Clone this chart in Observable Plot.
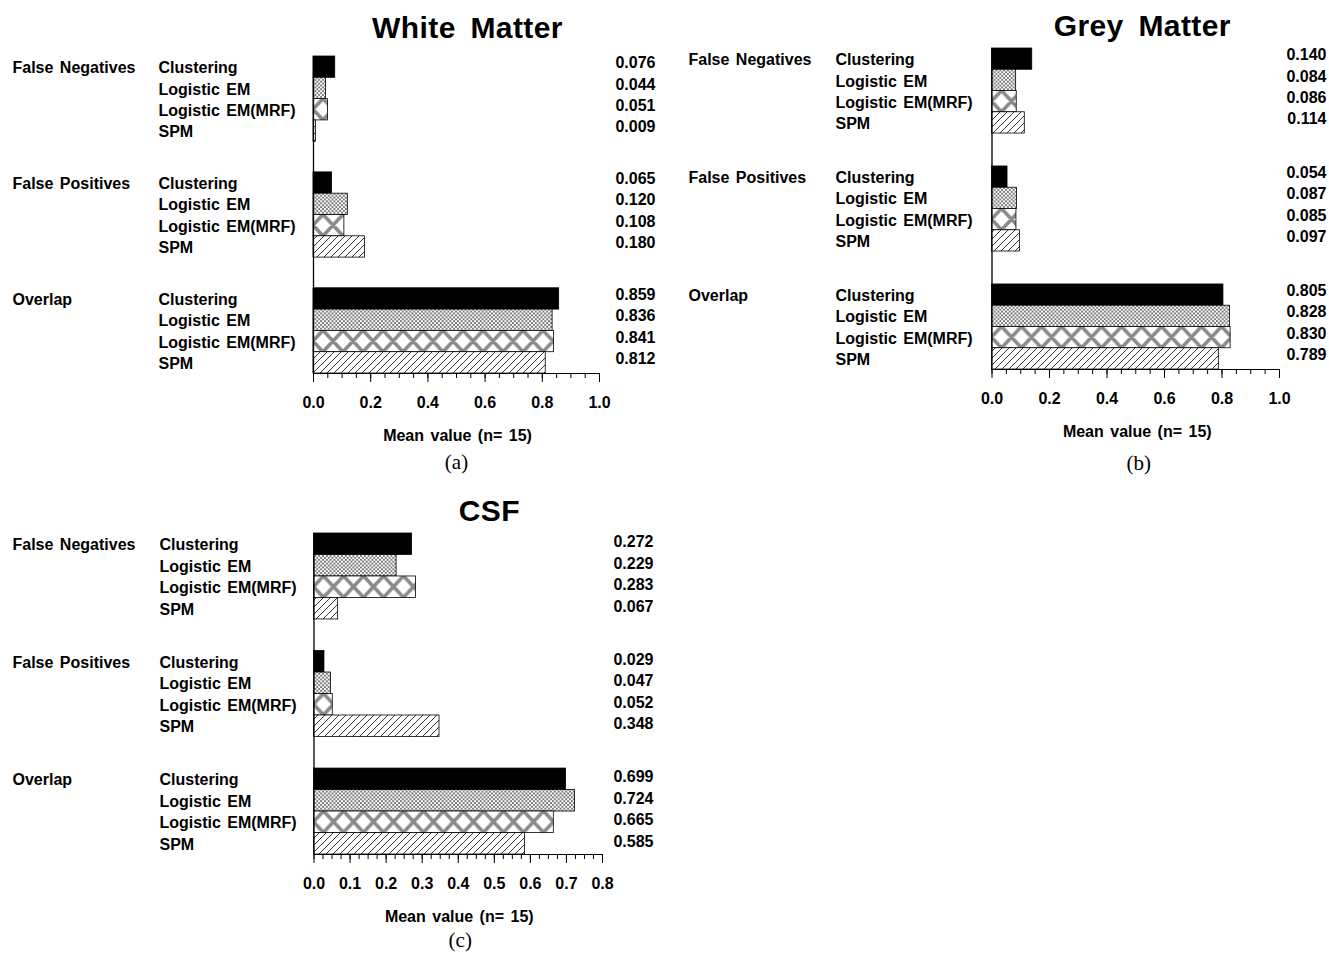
<!DOCTYPE html>
<html>
<head>
<meta charset="utf-8">
<script src="https://cdn.jsdelivr.net/npm/d3@7"></script>
<script src="https://cdn.jsdelivr.net/npm/@observablehq/plot@0.6"></script>
<style>
  body { margin: 0; background: #fff; }
  #wrap { position: relative; width: 1329px; height: 953px; overflow: hidden; background: #fff; }
  .panel { position: absolute; }
</style>
</head>
<body>
<svg width="0" height="0" style="position:absolute">
  <defs>
    <pattern id="xhatch" patternUnits="userSpaceOnUse" width="3.8" height="3.8">
      <rect width="3.8" height="3.8" fill="#fff"></rect>
      <path d="M-0.5,-0.5L4.3,4.3M4.3,-0.5L-0.5,4.3" stroke="#000" stroke-width="0.5"></path>
    </pattern>
    <pattern id="hatch" patternUnits="userSpaceOnUse" width="7" height="7">
      <rect width="7" height="7" fill="#fff"></rect>
      <path d="M-1,1L1,-1M-1,8L8,-1M6,8L8,6" stroke="#000" stroke-width="0.8"></path>
    </pattern>
    <pattern id="lattice" patternUnits="objectBoundingBox" x="0" y="0" width="1" height="1" patternContentUnits="userSpaceOnUse">
      <rect width="1000" height="40" fill="#fff"></rect>
      <path id="latticePath" stroke="#8a8a8a" stroke-width="3.6" fill="none"></path>
    </pattern>
  </defs>
</svg>
<div id="wrap"></div>
<script>
// ---------- data ----------
const groups = ["False Negatives", "False Positives", "Overlap"];
const methods = ["Clustering", "Logistic EM", "Logistic EM(MRF)", "SPM"];

const whiteFN = [0.076, 0.044, 0.051, 0.009];
const whiteFP = [0.065, 0.120, 0.108, 0.180];
const whiteOV = [0.859, 0.836, 0.841, 0.812];

const greyFN = [0.140, 0.084, 0.086, 0.114];
const greyFP = [0.054, 0.087, 0.085, 0.097];
const greyOV = [0.805, 0.828, 0.830, 0.789];

const csfFN = [0.272, 0.229, 0.283, 0.067];
const csfFP = [0.029, 0.047, 0.052, 0.348];
const csfOV = [0.699, 0.724, 0.665, 0.585];

const majorTicksA = [0, 0.2, 0.4, 0.6, 0.8, 1.0];
const majorTicksC = [0, 0.1, 0.2, 0.3, 0.4, 0.5, 0.6, 0.7, 0.8];
const axisLabel = "Mean value (n= 15)";
const fills = ["#000", "url(#xhatch)", "url(#lattice)", "url(#hatch)"];

// lattice pattern (diamonds), built once
(function () {
  const H = 21.4, P = 20;
  let d = "";
  for (let k = -1; k < 50; k++) {
    const a = P * k - P / 2, b = P * k + P / 2;
    const ex = 2, ey = ex * H / P;
    d += `M${a - ex},${-ey}L${b + ex},${H + ey}`;
    d += `M${a - ex},${H + ey}L${b + ex},${-ey}`;
  }
  document.getElementById("latticePath").setAttribute("d", d);
})();

const fmt3 = d3.format(".3f");
const fmt1 = d3.format(".1f");

function panel(opts) {
  const vals = [opts.fn, opts.fp, opts.ov];
  const gap = opts.gap;
  const rows = groups.flatMap((g, gi) => methods.map((m, mi) => ({
    group: g, method: m, value: vals[gi][mi], y: gi * (4 + gap) + mi
  })));
  const T = 12 + 2 * gap;
  const minor = d3.range(0, opts.xmax + 1e-9, opts.minorStep);
  const fig = Plot.plot({
    width: opts.width,
    height: opts.height,
    marginLeft: opts.ml,
    marginRight: opts.mr,
    marginTop: opts.mt,
    marginBottom: opts.mb,
    style: {
      fontFamily: "'Liberation Sans', Arial, Helvetica, sans-serif",
      fontSize: "16px",
      fontWeight: "bold",
      color: "#000",
      background: "transparent",
      overflow: "visible",
      wordSpacing: "2px"
    },
    x: { domain: [0, opts.xmax] },
    y: { domain: [0, T], reverse: true, axis: null },
    color: { domain: methods, range: fills },
    marks: [
      Plot.rect(rows, {
        x1: d => 0, x2: "value", y1: "y", y2: d => d.y + 1,
        fill: "method", stroke: "#000", strokeWidth: 0.8
      }),
      Plot.ruleX([0], { stroke: "#000", strokeWidth: 1.3 }),
      Plot.ruleY([T], { stroke: "#000", strokeWidth: 1.1 }),
      Plot.axisX({ ticks: minor, tickSize: 5, tickFormat: () => "", label: null }),
      Plot.axisX({ ticks: opts.major, tickSize: 9, tickPadding: 14, tickFormat: fmt1, label: null, fontSize: 16 }),
      Plot.text(rows.filter(d => d.method === methods[0]), {
        y: d => d.y + 0.5, text: "group", frameAnchor: "left", dx: opts.gdx, dy: 1, textAnchor: "start"
      }),
      Plot.text(rows, {
        y: d => d.y + 0.5, text: "method", frameAnchor: "left", dx: opts.mdx, dy: 1, textAnchor: "start"
      }),
      Plot.text(rows, {
        y: d => d.y + 0.5, text: d => fmt3(d.value), frameAnchor: "right", dx: opts.vdx, dy: opts.vdy, textAnchor: "end"
      }),
      Plot.text([opts.title], {
        text: d => d, frameAnchor: "top", lineAnchor: "middle", dx: opts.tdx, dy: opts.tdy, fontSize: 30
      }),
      Plot.text([axisLabel], {
        text: d => d, frameAnchor: "bottom", lineAnchor: "middle", dx: opts.ldx, dy: 62
      }),
      Plot.text([opts.caption], {
        text: d => d, frameAnchor: "bottom", lineAnchor: "middle", dx: opts.cdx, dy: opts.cdy,
        fontFamily: "'Liberation Serif', 'Times New Roman', serif", fontWeight: "normal", fontSize: 21
      })
    ]
  });
  d3.select(fig).selectAll("text").filter(function () { return this.textContent === opts.title; })
    .style("letter-spacing", "0.4px").style("word-spacing", "6px");
  const div = document.createElement("div");
  div.className = "panel";
  div.style.left = opts.left + "px";
  div.style.top = opts.top + "px";
  div.appendChild(fig);
  document.getElementById("wrap").appendChild(div);
}

panel({
  title: "White Matter", caption: "(a)",
  fn: whiteFN, fp: whiteFP, ov: whiteOV,
  left: 0, top: 0, width: 664, height: 480,
  ml: 313, mr: 65, mt: 56, mb: 107, gap: 1.44,
  xmax: 1.0, major: majorTicksA, minorStep: 0.05,
  gdx: -301, mdx: -155, vdx: 56, vdy: -4,
  tdx: 11, tdy: -28, ldx: 1, cdx: 0, cdy: 89
});

panel({
  title: "Grey Matter", caption: "(b)",
  fn: greyFN, fp: greyFP, ov: greyOV,
  left: 664, top: 0, width: 665, height: 480,
  ml: 327.5, mr: 50, mt: 48, mb: 111, gap: 1.55,
  xmax: 1.0, major: majorTicksA, minorStep: 0.05,
  gdx: -303.5, mdx: -156.5, vdx: 47, vdy: -4,
  tdx: 6.5, tdy: -22, ldx: 1.5, cdx: 3, cdy: 94
});

panel({
  title: "CSF", caption: "(c)",
  fn: csfFN, fp: csfFP, ov: csfOV,
  left: 0, top: 480, width: 664, height: 473,
  ml: 313.5, mr: 62, mt: 53, mb: 99, gap: 1.47,
  xmax: 0.8, major: majorTicksC, minorStep: 0.025,
  gdx: -301.5, mdx: -154.5, vdx: 51, vdy: -2,
  tdx: 31, tdy: -22, ldx: 1, cdx: 2, cdy: 86
});
</script>
</body>
</html>
